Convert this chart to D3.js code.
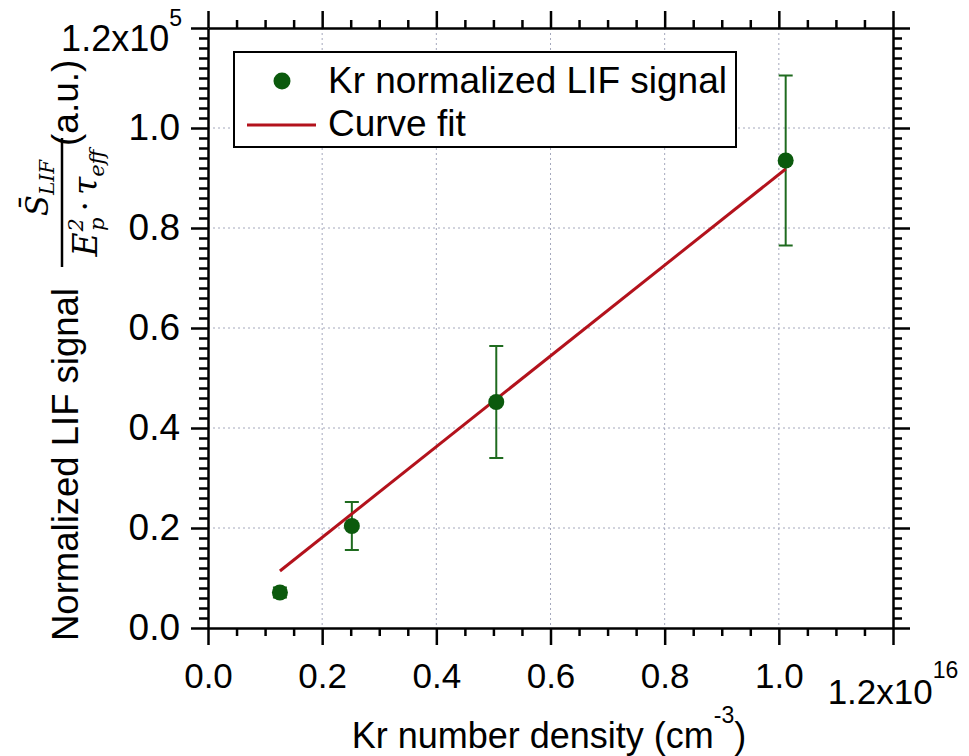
<!doctype html>
<html>
<head>
<meta charset="utf-8">
<title>Kr normalized LIF signal</title>
<script src="https://cdn.jsdelivr.net/npm/d3@7"></script>
<style>
  body { margin: 0; background: #fff; }
  svg { display: block; font-family: "Liberation Sans", Arial, sans-serif; }
</style>
</head>
<body>
<svg id="chart"></svg>
<script>
// Kr number density (x 1e16 cm^-3) and normalized LIF signal (x 1e5 a.u.)
const density = [0.126, 0.252, 0.505, 1.012];
const signal = [0.071, 0.204, 0.452, 0.935];
const errBar = [0.01, 0.048, 0.112, 0.170];

// linear fit, end points
const fitDensity = [0.126, 1.012];
const fitSignal = [0.114, 0.918];

const xMajor = [0, 0.2, 0.4, 0.6, 0.8, 1.0, 1.2];
const yMajor = [0, 0.2, 0.4, 0.6, 0.8, 1.0, 1.2];
const gridVals = [0.2, 0.4, 0.6, 0.8, 1.0];

const W = 969, H = 756;
const plotL = 208, plotR = 893, plotT = 28, plotB = 628;

const svg = d3.select("#chart").attr("width", W).attr("height", H);

const x = d3.scaleLinear().domain([0, 1.2]).range([plotL, plotR]);
const y = d3.scaleLinear().domain([0, 1.2]).range([plotB, plotT]);

const xMinor = d3.range(0, 1.2001, 0.05).filter(v => Math.abs(v * 5 - Math.round(v * 5)) > 1e-6);
const yMinor = d3.range(0, 1.2001, 0.02).filter(v => Math.abs(v * 5 - Math.round(v * 5)) > 1e-6);

// grid
const grid = svg.append("g")
    .attr("stroke", "#a4a8bc")
    .attr("stroke-width", 1)
    .attr("stroke-dasharray", "2,3");
grid.selectAll("line.gx").data(gridVals).join("line")
    .attr("x1", d => x(d)).attr("x2", d => x(d))
    .attr("y1", plotT).attr("y2", plotB);
grid.selectAll("line.gy").data(gridVals).join("line")
    .attr("y1", d => y(d)).attr("y2", d => y(d))
    .attr("x1", plotL).attr("x2", plotR);

function styleAxis(size) {
    return g => {
        g.attr("font-family", null).attr("font-size", size);
        g.select(".domain").attr("stroke-width", 2.5);
        g.selectAll(".tick line").attr("stroke-width", 2.5);
        g.selectAll(".tick text").attr("fill", "#000");
    };
}
function noDomain(g) { g.select(".domain").remove(); g.selectAll(".tick line").attr("stroke-width", 2.5); }

const fmt = d3.format(".1f");

// bottom
svg.append("g").attr("transform", `translate(0,${plotB})`)
    .call(d3.axisBottom(x).tickValues(xMinor).tickSize(8).tickFormat(""))
    .call(noDomain);
svg.append("g").attr("transform", `translate(0,${plotB})`)
    .call(d3.axisBottom(x).tickValues(xMajor).tickSize(17).tickSizeOuter(0).tickPadding(18)
        .tickFormat(d => d === 1.2 ? "" : fmt(d)))
    .call(styleAxis(35));
// top
svg.append("g").attr("transform", `translate(0,${plotT})`)
    .call(d3.axisTop(x).tickValues(xMinor).tickSize(8).tickFormat(""))
    .call(noDomain);
svg.append("g").attr("transform", `translate(0,${plotT})`)
    .call(d3.axisTop(x).tickValues(xMajor).tickSize(17).tickSizeOuter(0).tickFormat(""))
    .call(styleAxis(35));
// left
svg.append("g").attr("transform", `translate(${plotL},0)`)
    .call(d3.axisLeft(y).tickValues(yMinor).tickSize(9).tickFormat(""))
    .call(noDomain);
svg.append("g").attr("transform", `translate(${plotL},0)`)
    .call(d3.axisLeft(y).tickValues(yMajor).tickSize(17).tickSizeOuter(0).tickPadding(11)
        .tickFormat(d => d === 1.2 ? "" : fmt(d)))
    .call(styleAxis(37));
// right
svg.append("g").attr("transform", `translate(${plotR},0)`)
    .call(d3.axisRight(y).tickValues(yMinor).tickSize(9).tickFormat(""))
    .call(noDomain);
svg.append("g").attr("transform", `translate(${plotR},0)`)
    .call(d3.axisRight(y).tickValues(yMajor).tickSize(17).tickSizeOuter(0).tickFormat(""))
    .call(styleAxis(35));

// exponent labels
const yExp = svg.append("text").attr("x", 182).attr("y", 51)
    .attr("text-anchor", "end").attr("font-size", 36);
yExp.append("tspan").text("1.2x10");
yExp.append("tspan").attr("dy", -25).attr("font-size", 23).text("5");

const xExp = svg.append("text").attr("x", x(1.2)).attr("y", 704)
    .attr("text-anchor", "middle").attr("font-size", 35);
xExp.append("tspan").text("1.2x10");
xExp.append("tspan").attr("dy", -26).attr("font-size", 23).text("16");

// axis titles
const xTitle = svg.append("text").attr("x", 549).attr("y", 748)
    .attr("text-anchor", "middle").attr("font-size", 36);
xTitle.append("tspan").text("Kr number density (cm");
xTitle.append("tspan").attr("dy", -25).attr("font-size", 23).text("-3");
xTitle.append("tspan").attr("dy", 25).text(")");

const yTitle = svg.append("g").attr("transform", "rotate(-90)");
yTitle.append("text").attr("x", -641).attr("y", 78)
    .attr("font-size", 36.5).text("Normalized LIF signal");
yTitle.append("text").attr("x", -146).attr("y", 78)
    .attr("font-size", 37).text("(a.u.)");
// fraction S_LIF / (E_p^2 . tau_eff)
yTitle.append("line")
    .attr("x1", -267).attr("x2", -138).attr("y1", 62).attr("y2", 62)
    .attr("stroke", "#000").attr("stroke-width", 2.5);
const serif = "'DejaVu Serif', 'Liberation Serif', serif";
const num = yTitle.append("text").attr("x", -188).attr("y", 48)
    .attr("text-anchor", "middle").attr("font-family", serif)
    .attr("font-style", "italic").attr("font-size", 31);
num.append("tspan").text("S\u0304");
num.append("tspan").attr("dy", 6).attr("font-size", 20).text("LIF");
const den = yTitle.append("text").attr("x", -203).attr("y", 97)
    .attr("text-anchor", "middle").attr("font-family", serif)
    .attr("font-style", "italic").attr("font-size", 33);
den.append("tspan").text("E");
den.append("tspan").attr("dx", 1).attr("dy", -14).attr("font-size", 21).text("2");
den.append("tspan").attr("dx", -13).attr("dy", 21).attr("font-size", 21).text("p");
den.append("tspan").attr("dx", 6).attr("dy", -7).attr("font-style", "normal").text("\u00b7");
den.append("tspan").attr("dx", 6).text("\u03c4");
den.append("tspan").attr("dy", 7).attr("font-size", 21).text("eff");

// error bars
const pts = density.map((d, i) => ({x: d, y: signal[i], e: errBar[i]}));
const eb = svg.append("g").attr("stroke", "#1f6b1f").attr("stroke-width", 2);
eb.selectAll("line.v").data(pts).join("line")
    .attr("x1", d => x(d.x)).attr("x2", d => x(d.x))
    .attr("y1", d => y(d.y - d.e)).attr("y2", d => y(d.y + d.e));
eb.selectAll("line.t").data(pts).join("line")
    .attr("x1", d => x(d.x) - 7).attr("x2", d => x(d.x) + 7)
    .attr("y1", d => y(d.y + d.e)).attr("y2", d => y(d.y + d.e));
eb.selectAll("line.b").data(pts).join("line")
    .attr("x1", d => x(d.x) - 7).attr("x2", d => x(d.x) + 7)
    .attr("y1", d => y(d.y - d.e)).attr("y2", d => y(d.y - d.e));

// fit line
svg.append("path")
    .datum(fitDensity.map((d, i) => [d, fitSignal[i]]))
    .attr("fill", "none").attr("stroke", "#b3121c").attr("stroke-width", 3)
    .attr("d", d3.line().x(d => x(d[0])).y(d => y(d[1])));

// markers
svg.append("g").selectAll("circle").data(pts).join("circle")
    .attr("cx", d => x(d.x)).attr("cy", d => y(d.y)).attr("r", 8)
    .attr("fill", "#0b5a0d");

// legend
const lg = svg.append("g");
lg.append("rect").attr("x", 234).attr("y", 52).attr("width", 502).attr("height", 95)
    .attr("fill", "#fff").attr("stroke", "#000").attr("stroke-width", 2);
lg.append("circle").attr("cx", 282).attr("cy", 81).attr("r", 8.5).attr("fill", "#0b5a0d");
lg.append("text").attr("x", 328).attr("y", 93).attr("font-size", 37).text("Kr normalized LIF signal");
lg.append("line").attr("x1", 247).attr("x2", 316).attr("y1", 125).attr("y2", 125)
    .attr("stroke", "#b3121c").attr("stroke-width", 3);
lg.append("text").attr("x", 328).attr("y", 136).attr("font-size", 37).text("Curve fit");
</script>
</body>
</html>
